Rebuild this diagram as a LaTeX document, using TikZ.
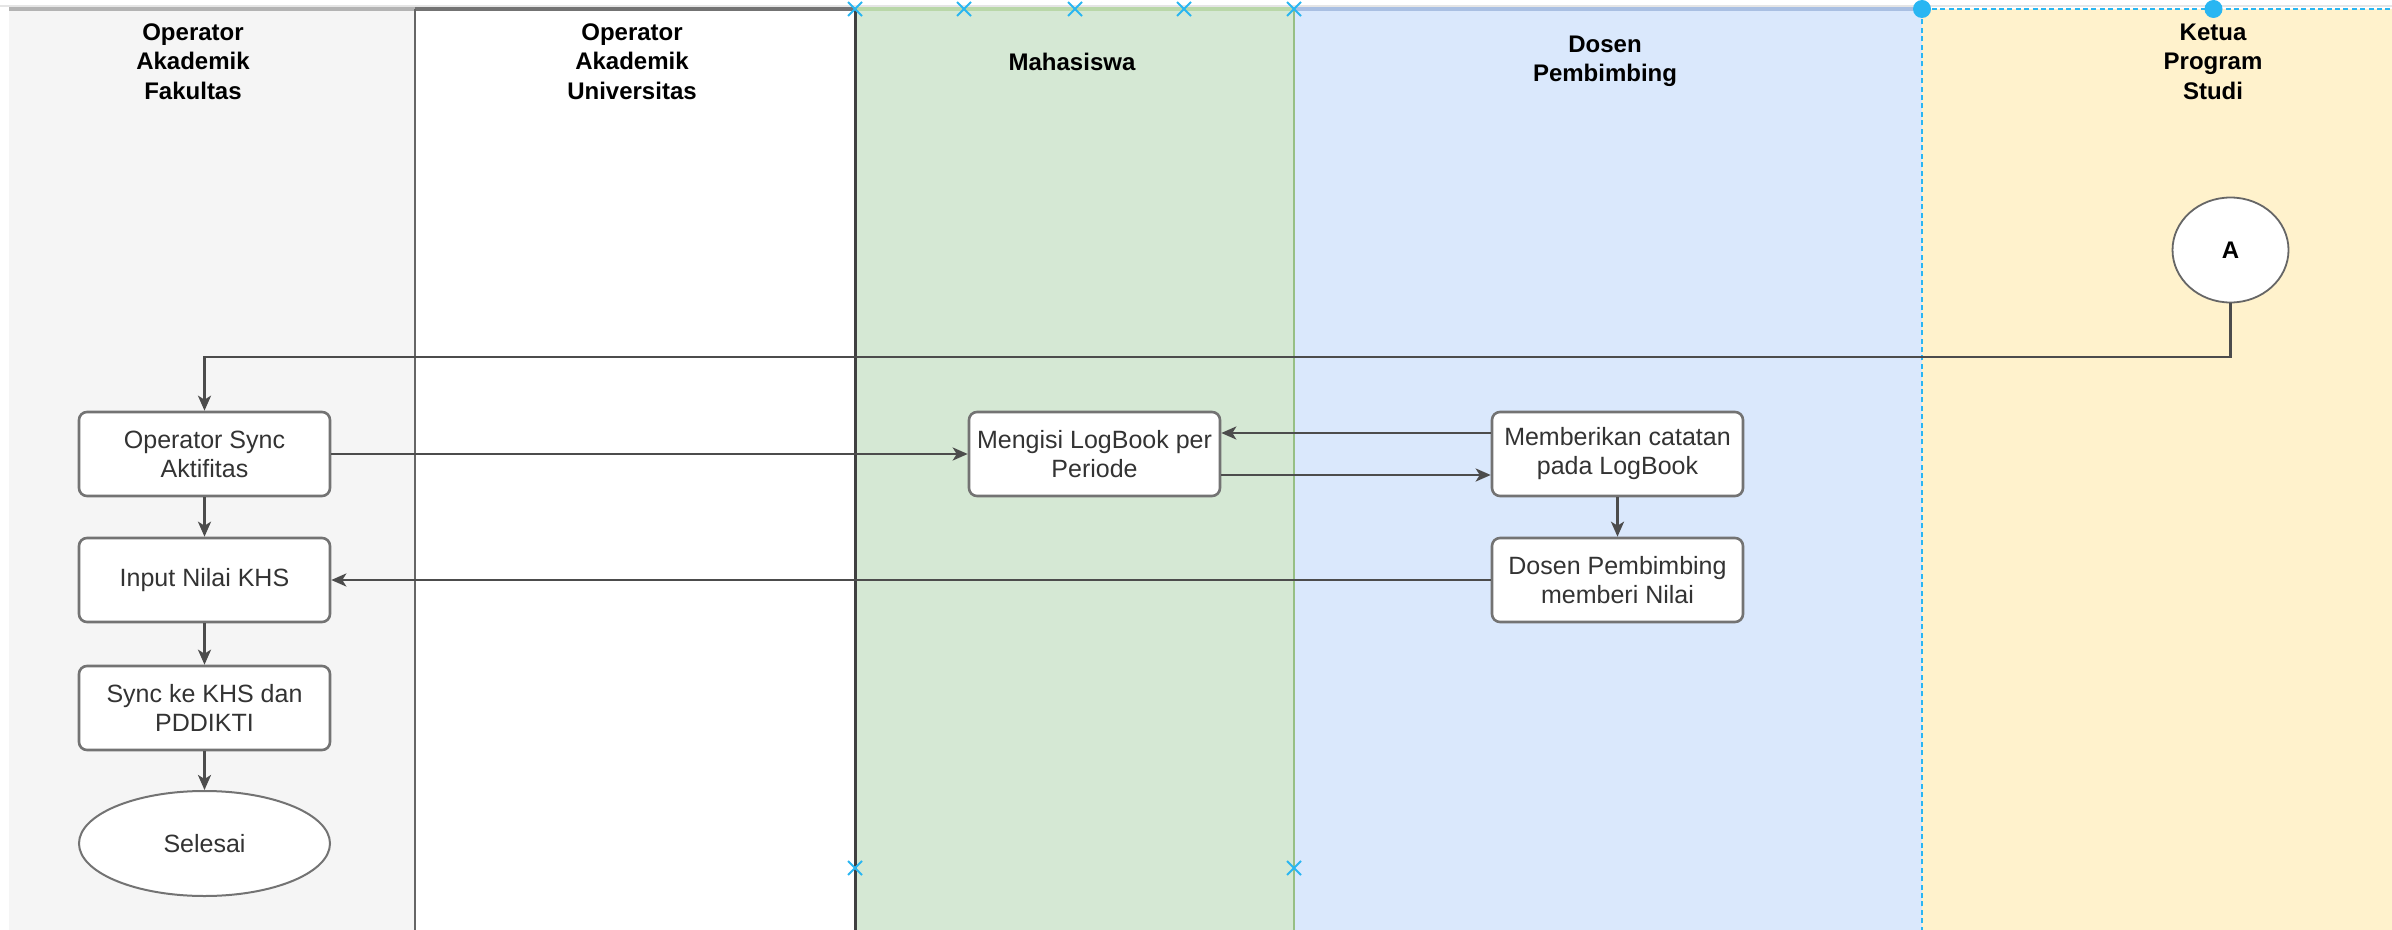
\documentclass[tikz,border=0pt]{standalone}
\usepackage{fontspec}
\setmainfont{Liberation Sans}
\usetikzlibrary{arrows.meta, shapes.geometric}
\definecolor{lanegray}{HTML}{f5f5f5}
\definecolor{lanegreen}{HTML}{d5e8d4}
\definecolor{laneblue}{HTML}{dae8fc}
\definecolor{laneyellow}{HTML}{fff2cc}
\definecolor{topgray}{HTML}{b3b3b3}
\definecolor{topgreen}{HTML}{b9d7a8}
\definecolor{topblue}{HTML}{a9bfe2}
\definecolor{bordergreen}{HTML}{97bf85}
\definecolor{selectblue}{HTML}{29b6f2}

\begin{document}
\begin{tikzpicture}[
        lanetitle/.style = {align = center, font = \fontsize{12}{14.75}\selectfont\bfseries},
        process/.style = {draw = black!55, line width = 1.3pt, fill = white, rounded corners = 4pt,
            minimum width = 125.5pt, minimum height = 42pt, align = center, text = black!80,
            font = \fontsize{12.5}{14.5}\selectfont, inner sep = 2pt},
        terminal/.style = {draw = black!55, line width = 1pt, fill = white, ellipse,
            minimum width = 125.5pt, minimum height = 52.5pt, inner sep = 0pt, text = black!80,
            font = \fontsize{12.5}{14.5}\selectfont},
        joint/.style = {draw = black!60, line width = 0.9pt, fill = white, ellipse,
            minimum width = 58pt, minimum height = 52.5pt, inner sep = 0pt,
            font = \fontsize{12}{14}\selectfont\bfseries},
        flow/.style = {draw = black!70, line width = 1.3pt, -{Stealth[length = 7.5pt, width = 6.5pt, inset = 2pt]}},
        handle/.style = {draw = selectblue, line width = 1pt}
    ]
        \useasboundingbox (0pt, 0pt) rectangle (1196pt, -465pt);

        % Lanes
        \fill [lanegray] (4.5pt, -4.5pt) rectangle (207.5pt, -470pt);
        \fill [white] (207.5pt, -4.5pt) rectangle (427.5pt, -470pt);
        \fill [lanegreen] (427.5pt, -4.5pt) rectangle (647pt, -470pt);
        \fill [laneblue] (647pt, -4.5pt) rectangle (961pt, -470pt);
        \fill [laneyellow] (961pt, -4.5pt) rectangle (1260pt, -470pt);
        \fill [black!10] (0pt, -2.5pt) rectangle (1260pt, -3.6pt);

        \draw [topgray, line width = 2pt] (4.5pt, -4.5pt) -- (207.5pt, -4.5pt);
        \draw [black!55, line width = 2pt] (207.5pt, -4.5pt) -- (427.5pt, -4.5pt);
        \draw [topgreen, line width = 2pt] (427.5pt, -4.5pt) -- (647pt, -4.5pt);
        \draw [topblue, line width = 2pt] (647pt, -4.5pt) -- (961pt, -4.5pt);
        \draw [black!60, line width = 1.2pt] (207.5pt, -4.5pt) -- (207.5pt, -470pt);
        \draw [black!75, line width = 1.5pt] (427.5pt, -4.5pt) -- (427.5pt, -470pt);
        \draw [bordergreen, line width = 1.2pt] (647pt, -4.5pt) -- (647pt, -470pt);
        \draw [selectblue, line width = 1pt, dash pattern = on 2.5pt off 1.7pt]
            (961pt, -470pt) -- (961pt, -4.5pt) -- (1260pt, -4.5pt);

        % Lane titles
        \node [lanetitle] (t1) at (96.5pt, -30.75pt) {Operator\\Akademik\\Fakultas};
        \node [lanetitle] (t2) at (316pt, -30.75pt) {Operator\\Akademik\\Universitas};
        \node [lanetitle] (t3) at (536pt, -30.75pt) {Mahasiswa};
        \node [lanetitle] (t4) at (802.5pt, -30.75pt) {Dosen\\Pembimbing};
        \node [lanetitle] (t5) at (1106.5pt, -30.75pt) {Ketua\\Program\\Studi};

        % Nodes
        \node [joint] (conA) at (1115.25pt, -125pt) {A};
        \node [process] (opsync) at (102.25pt, -227pt) {Operator Sync\\Aktifitas};
        \node [process] (input) at (102.25pt, -290pt) {Input Nilai KHS};
        \node [process] (syncpd) at (102.25pt, -354pt) {Sync ke KHS dan\\PDDIKTI};
        \node [terminal] (selesai) at (102.25pt, -421.75pt) {Selesai};
        \node [process] (mengisi) at (547.25pt, -227pt) {Mengisi LogBook per\\Periode};
        \node [process] (catatan) at (808.75pt, -227pt) {Memberikan catatan\\pada LogBook};
        \node [process] (nilai) at (808.75pt, -290pt) {Dosen Pembimbing\\memberi Nilai};
        \coordinate (bend) at (102.25pt, -178.5pt);

        % Lines
        \draw [flow] (conA) |- (bend) -- (opsync);
        \draw [flow] (opsync) -- (input);
        \draw [flow] (input) -- (syncpd);
        \draw [flow] (syncpd) -- (selesai);
        \draw [flow] (opsync) -- (mengisi);
        \draw [flow] ([yshift = 10.5pt] catatan.west) -- ([yshift = 10.5pt] mengisi.east);
        \draw [flow] ([yshift = -10.5pt] mengisi.east) -- ([yshift = -10.5pt] catatan.west);
        \draw [flow] (catatan) -- (nilai);
        \draw [flow] (nilai) -- (input);

        % Selection handles
        \foreach \hx/\hy in {427.5/-4.5, 482/-4.5, 537.5/-4.5, 592/-4.5, 647/-4.5, 427.5/-434, 647/-434}
            \draw [handle] (\hx pt, \hy pt) ++(-3.5pt, -3.5pt) -- ++(7pt, 7pt) ++(-7pt, 0pt) -- ++(7pt, -7pt);
        \fill [selectblue] (961pt, -4.5pt) circle (4.5pt);
        \fill [selectblue] (1106.75pt, -4.5pt) circle (4.5pt);

    \end{tikzpicture}
\end{document}
